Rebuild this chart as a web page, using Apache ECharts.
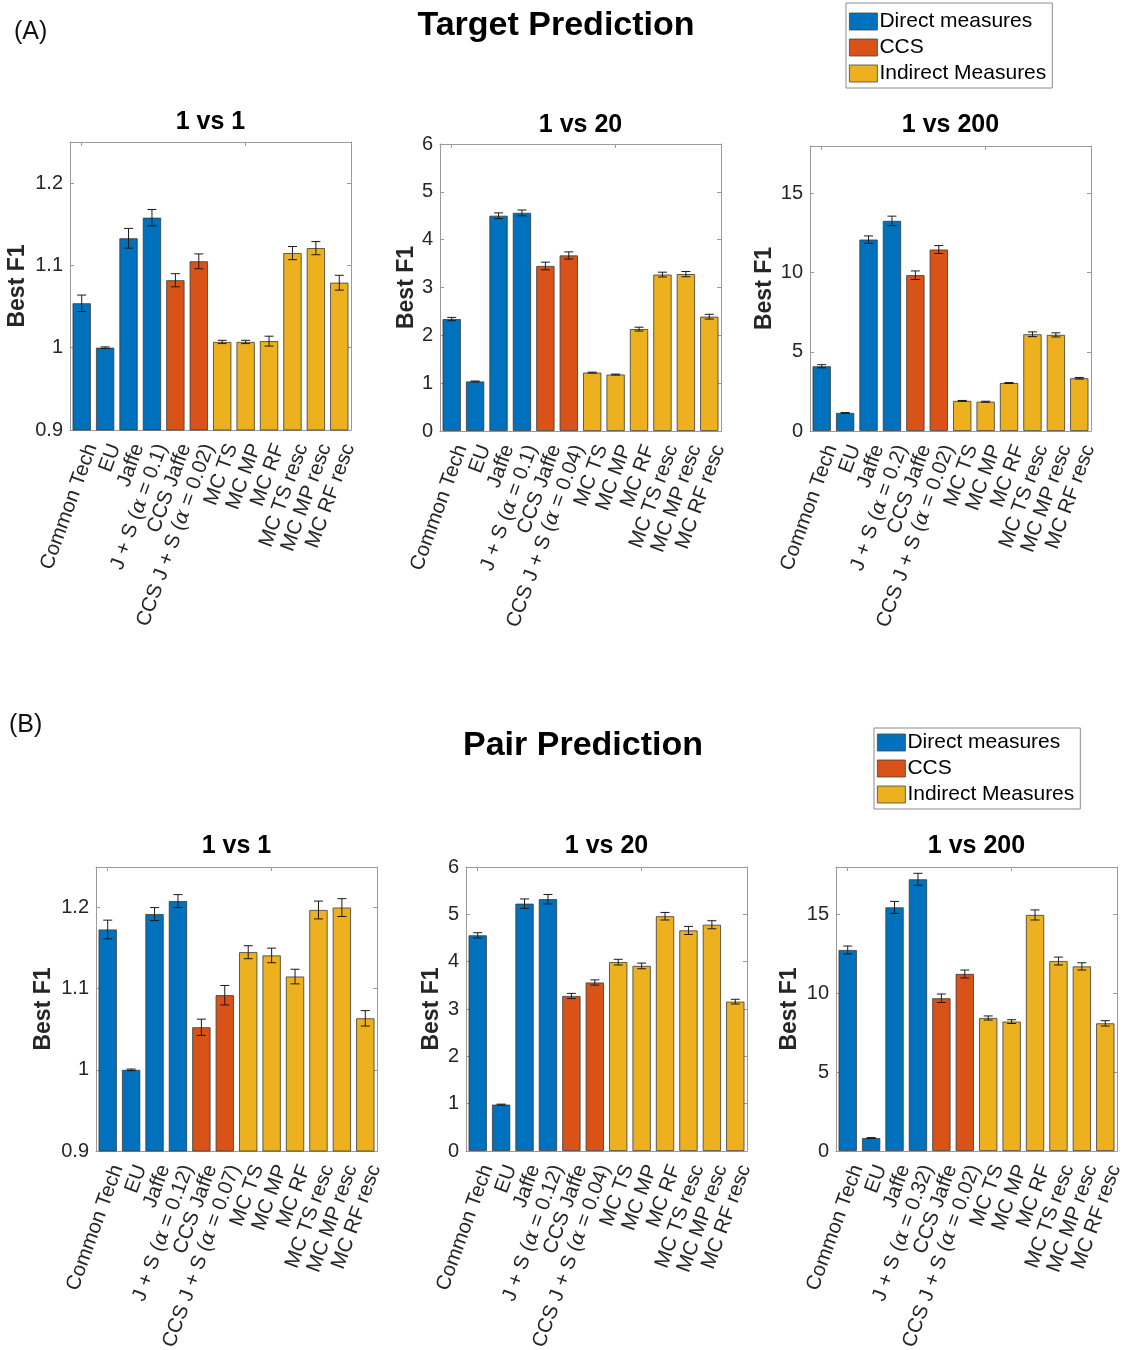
<!DOCTYPE html>
<html>
<head>
<meta charset="utf-8">
<script src="https://cdn.jsdelivr.net/npm/echarts@6/dist/echarts.min.js"></script>
<style>
html,body{margin:0;padding:0;background:#fff;}
#chart{width:1136px;height:1350px;}
</style>
</head>
<body>
<div id="chart"></div>
<script>
// ---------------- data ----------------
const groupNames = ['Direct measures', 'CCS', 'Indirect Measures'];
const groupOfBar = [0, 0, 0, 0, 1, 1, 2, 2, 2, 2, 2, 2];

const catsTarget1 = ['Common Tech','EU','Jaffe','J + S (α = 0.1)','CCS Jaffe','CCS J + S (α = 0.02)','MC TS','MC MP','MC RF','MC TS resc','MC MP resc','MC RF resc'];
const catsTarget20 = ['Common Tech','EU','Jaffe','J + S (α = 0.1)','CCS Jaffe','CCS J + S (α = 0.04)','MC TS','MC MP','MC RF','MC TS resc','MC MP resc','MC RF resc'];
const catsTarget200 = ['Common Tech','EU','Jaffe','J + S (α = 0.2)','CCS Jaffe','CCS J + S (α = 0.02)','MC TS','MC MP','MC RF','MC TS resc','MC MP resc','MC RF resc'];
const catsPair1 = ['Common Tech','EU','Jaffe','J + S (α = 0.12)','CCS Jaffe','CCS J + S (α = 0.07)','MC TS','MC MP','MC RF','MC TS resc','MC MP resc','MC RF resc'];
const catsPair20 = ['Common Tech','EU','Jaffe','J + S (α = 0.12)','CCS Jaffe','CCS J + S (α = 0.04)','MC TS','MC MP','MC RF','MC TS resc','MC MP resc','MC RF resc'];
const catsPair200 = ['Common Tech','EU','Jaffe','J + S (α = 0.32)','CCS Jaffe','CCS J + S (α = 0.02)','MC TS','MC MP','MC RF','MC TS resc','MC MP resc','MC RF resc'];

const targetVs1 = [1.054, 1.000, 1.133, 1.158, 1.082, 1.105, 1.007, 1.007, 1.008, 1.115, 1.121, 1.079];
const targetVs1Err = [0.010, 0.001, 0.012, 0.010, 0.008, 0.009, 0.002, 0.002, 0.006, 0.008, 0.008, 0.009];
const targetVs20 = [2.34, 1.035, 4.50, 4.56, 3.45, 3.67, 1.22, 1.18, 2.13, 3.27, 3.28, 2.39];
const targetVs20Err = [0.035, 0.01, 0.06, 0.06, 0.08, 0.075, 0.01, 0.01, 0.04, 0.05, 0.055, 0.05];
const targetVs200 = [4.09, 1.14, 12.09, 13.27, 9.84, 11.46, 1.90, 1.85, 3.03, 6.11, 6.07, 3.33];
const targetVs200Err = [0.10, 0.03, 0.23, 0.30, 0.27, 0.25, 0.03, 0.03, 0.03, 0.15, 0.13, 0.05];

const pairVs1 = [1.173, 1.000, 1.192, 1.208, 1.0525, 1.092, 1.145, 1.141, 1.115, 1.197, 1.200, 1.0635];
const pairVs1Err = [0.0115, 0.001, 0.008, 0.008, 0.010, 0.012, 0.008, 0.009, 0.009, 0.011, 0.011, 0.0095];
const pairVs20 = [4.556, 0.98, 5.225, 5.32, 3.275, 3.56, 3.99, 3.91, 4.96, 4.66, 4.78, 3.155];
const pairVs20Err = [0.056, 0.01, 0.10, 0.10, 0.055, 0.055, 0.06, 0.06, 0.08, 0.085, 0.085, 0.05];
const pairVs200 = [12.74, 0.82, 15.44, 17.22, 9.68, 11.22, 8.43, 8.20, 14.96, 12.04, 11.70, 8.09];
const pairVs200Err = [0.25, 0.03, 0.38, 0.38, 0.27, 0.25, 0.13, 0.12, 0.32, 0.25, 0.23, 0.17];

const panelTitles = ['1 vs 1', '1 vs 20', '1 vs 200', '1 vs 1', '1 vs 20', '1 vs 200'];
const yAxisTitle = 'Best F1';
const mainTitles = ['Target Prediction', 'Pair Prediction'];
const panelLetters = ['(A)', '(B)'];

// axis ranges: [min, max, interval]
const yRanges = [[0.9, 1.25, 0.1], [0, 6, 1], [0, 18, 5], [0.9, 1.25, 0.1], [0, 6, 1], [0, 18, 5]];

// ---------------- styling / layout ----------------
const groupColors = ['#0072BD', '#D95319', '#EDB120'];
const FONT = 'Liberation Sans, Arial, Helvetica, sans-serif';
const frameColor = '#9a9a9a';
const textColor = '#262626';

const grids = [
  {left: 70, top: 142, width: 281, height: 288},
  {left: 440, top: 144, width: 281, height: 287},
  {left: 810, top: 146, width: 281, height: 285},
  {left: 96, top: 867, width: 281, height: 284},
  {left: 466, top: 867, width: 281, height: 284},
  {left: 836, top: 867, width: 281, height: 284}
];
const nameGaps = [41, 22, 34, 41, 23, 35];
const titleY = [122, 125, 125, 846, 846, 846];

const panels = [
  {cats: catsTarget1, vals: targetVs1, errs: targetVs1Err},
  {cats: catsTarget20, vals: targetVs20, errs: targetVs20Err},
  {cats: catsTarget200, vals: targetVs200, errs: targetVs200Err},
  {cats: catsPair1, vals: pairVs1, errs: pairVs1Err},
  {cats: catsPair20, vals: pairVs20, errs: pairVs20Err},
  {cats: catsPair200, vals: pairVs200, errs: pairVs200Err}
];

function richLabel(v) {
  const parts = v.split('α');
  if (parts.length === 1) return '{n|' + v + '}';
  return '{n|' + parts[0] + '}{a|α}{n|' + parts[1] + '}';
}

const xAxes = [], yAxes = [], series = [], graphics = [];

panels.forEach((p, i) => {
  const g = grids[i];
  const [mn, mx, iv] = yRanges[i];
  // bottom category axis
  xAxes.push({
    gridIndex: i, type: 'category', data: p.cats, position: 'bottom',
    axisLine: {show: true, onZero: false, lineStyle: {color: frameColor, width: 1}},
    axisTick: {show: true, inside: true, alignWithLabel: true, length: 4, lineStyle: {color: frameColor}},
    axisLabel: {
      interval: 0, rotate: 70, margin: 11, verticalAlign: 'top',
      formatter: richLabel,
      rich: {
        n: {fontSize: 20.5, fontFamily: FONT, color: textColor},
        a: {fontSize: 20.5, fontFamily: 'DejaVu Serif, serif', fontStyle: 'italic', color: textColor}
      }
    }
  });
  // top mirror axis
  xAxes.push({
    gridIndex: i, type: 'category', data: p.cats, position: 'top',
    axisLine: {show: true, onZero: false, lineStyle: {color: frameColor, width: 1}},
    axisTick: {show: true, inside: true, alignWithLabel: true, length: 4, lineStyle: {color: frameColor}},
    axisLabel: {show: false}
  });
  yAxes.push({
    gridIndex: i, type: 'value', min: mn, max: mx, interval: iv, position: 'left',
    name: yAxisTitle, nameLocation: 'middle', nameGap: nameGaps[i], nameRotate: 90,
    nameTextStyle: {fontSize: 23, fontWeight: 'bold', fontFamily: FONT, color: textColor},
    axisLine: {show: true, onZero: false, lineStyle: {color: frameColor, width: 1}},
    axisTick: {show: true, inside: true, length: 4, lineStyle: {color: frameColor}},
    axisLabel: {fontSize: 20, fontFamily: FONT, color: textColor, margin: 7, showMaxLabel: (mx % iv === 0)},
    splitLine: {show: false}
  });
  yAxes.push({
    gridIndex: i, type: 'value', min: mn, max: mx, interval: iv, position: 'right',
    axisLine: {show: true, onZero: false, lineStyle: {color: frameColor, width: 1}},
    axisTick: {show: true, inside: true, length: 4, lineStyle: {color: frameColor}},
    axisLabel: {show: false},
    splitLine: {show: false}
  });

  series.push({
    type: 'bar', xAxisIndex: 2 * i, yAxisIndex: 2 * i,
    barWidth: '78%',
    data: p.vals.map((v, k) => ({
      value: v,
      itemStyle: {color: groupColors[groupOfBar[k]], borderColor: '#3a3a3a', borderWidth: 0.8}
    })),
    silent: true, animation: false
  });
  series.push({
    type: 'custom', xAxisIndex: 2 * i, yAxisIndex: 2 * i, z: 5,
    data: p.vals.map((v, k) => [k, v, p.errs[k]]),
    renderItem: function (params, api) {
      const x = api.value(0), v = api.value(1), e = api.value(2);
      const top = api.coord([x, v + e]);
      const bot = api.coord([x, v - e]);
      const hw = 4.5;
      const st = {stroke: '#1a1a1a', lineWidth: 1};
      return {
        type: 'group',
        children: [
          {type: 'line', shape: {x1: top[0], y1: top[1], x2: bot[0], y2: bot[1]}, style: st},
          {type: 'line', shape: {x1: top[0] - hw, y1: top[1], x2: top[0] + hw, y2: top[1]}, style: st},
          {type: 'line', shape: {x1: bot[0] - hw, y1: bot[1], x2: bot[0] + hw, y2: bot[1]}, style: st}
        ]
      };
    },
    silent: true, animation: false
  });

  graphics.push({
    type: 'text', x: g.left + g.width / 2, y: titleY[i],
    style: {text: panelTitles[i], font: 'bold 25px ' + FONT, fill: '#000', textAlign: 'center', textVerticalAlign: 'middle'}
  });
});

// dummy series for the legend entries
groupNames.forEach((n, k) => {
  series.push({type: 'scatter', name: n, xAxisIndex: 0, yAxisIndex: 0, data: [], itemStyle: {color: groupColors[k], opacity: 1}});
});

// main titles and panel letters
graphics.push({type: 'text', x: 556, y: 26, style: {text: mainTitles[0], font: 'bold 34px ' + FONT, fill: '#000', textAlign: 'center', textVerticalAlign: 'middle'}});
graphics.push({type: 'text', x: 583, y: 746, style: {text: mainTitles[1], font: 'bold 34px ' + FONT, fill: '#000', textAlign: 'center', textVerticalAlign: 'middle'}});
graphics.push({type: 'text', x: 14, y: 32, style: {text: panelLetters[0], font: '25px ' + FONT, fill: '#111', textAlign: 'left', textVerticalAlign: 'middle'}});
graphics.push({type: 'text', x: 9, y: 725, style: {text: panelLetters[1], font: '25px ' + FONT, fill: '#111', textAlign: 'left', textVerticalAlign: 'middle'}});

const legendBase = {
  orient: 'vertical', data: groupNames, icon: 'rect',
  itemWidth: 28, itemHeight: 17, itemGap: 5,
  borderColor: '#8a8a8a', borderWidth: 1, backgroundColor: '#fff',
  selectedMode: false,
  itemStyle: {borderColor: '#444', borderWidth: 0.8, opacity: 1},
  textStyle: {fontSize: 21, fontFamily: FONT, color: '#000', lineHeight: 21, padding: [0, 0, 0, -3]}
};

const option = {
  animation: false,
  backgroundColor: '#fff',
  grid: grids.map(g => Object.assign({containLabel: false, outerBoundsMode: 'none'}, g)),
  xAxis: xAxes,
  yAxis: yAxes,
  legend: [
    Object.assign({}, legendBase, {left: 846, top: 3, padding: [8, 6, 4, 3]}),
    Object.assign({}, legendBase, {left: 874, top: 728, padding: [4, 6, 4, 3]})
  ],
  graphic: graphics,
  series: series
};

const chart = echarts.init(document.getElementById('chart'), null, {renderer: 'canvas'});
chart.setOption(option);
</script>
</body>
</html>
